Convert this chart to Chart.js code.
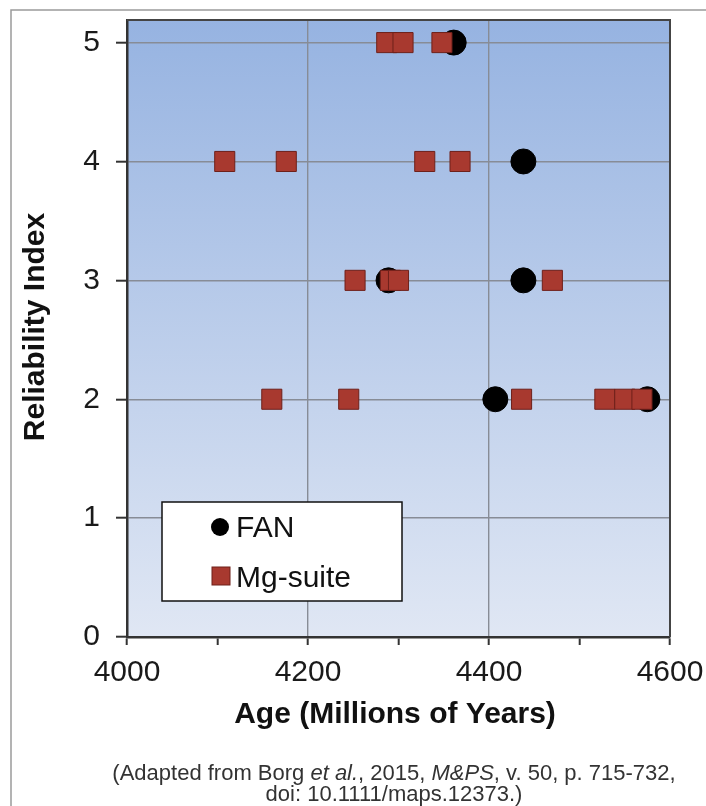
<!DOCTYPE html>
<html>
<head>
<meta charset="utf-8">
<script src="https://cdn.jsdelivr.net/npm/chart.js@4.4.1/dist/chart.umd.min.js"></script>
<style>
    html, body { margin: 0; padding: 0; background: #ffffff; }
    #ageChart { display: block; }
</style>
</head>
<body>
<canvas id="ageChart" width="706" height="806"></canvas>
<script>
// Data
const fanAges = [4361, 4438, 4289, 4438, 4407, 4575];
const fanIndex = [5, 4, 3, 3, 2, 2];
const mgAges = [4287, 4305, 4348, 4108, 4176, 4329, 4368, 4252, 4291, 4300, 4470, 4160, 4245, 4436, 4528, 4550, 4569];
const mgIndex = [5, 5, 5, 4, 4, 4, 4, 3, 3, 3, 3, 2, 2, 2, 2, 2, 2];
const xTickLabels = [4000, 4200, 4400, 4600];
const yTickLabels = [0, 1, 2, 3, 4, 5];
const seriesNames = ['FAN', 'Mg-suite'];

const FONT = '"Liberation Sans", Arial, sans-serif';
const gridColor = '#878c96';
const axisColor = '#333333';
const mgFill = '#a8392f';
const mgBorder = '#6e201a';

const toPoints = (xs, ys) => xs.map((x, i) => ({ x: x, y: ys[i] }));

// no automatic label overflow padding, the layout padding decides the plot box
const noPad = s => {
    s.paddingLeft = 0;
    s.paddingRight = 0;
    s.paddingTop = 0;
    s.paddingBottom = 0;
};

// Background gradient, plot frame, legend, axis titles and caption
const decorPlugin = {
    id: 'decor',
    beforeDraw(chart) {
        const { ctx, chartArea: a } = chart;
        ctx.save();
        // outer frame (top/left visible)
        ctx.strokeStyle = '#9a9a9a';
        ctx.lineWidth = 1.5;
        ctx.strokeRect(11, 10, 720, 820);
        const g = ctx.createLinearGradient(0, a.top, 0, a.bottom);
        g.addColorStop(0, '#96b3e1');
        g.addColorStop(1, '#e0e7f4');
        ctx.fillStyle = g;
        ctx.fillRect(a.left, a.top, a.right - a.left, a.bottom - a.top);
        ctx.restore();
    },
    beforeDatasetsDraw(chart) {
        const { ctx, chartArea: a } = chart;
        ctx.save();
        ctx.strokeStyle = '#444';
        ctx.lineWidth = 2;
        ctx.beginPath();
        ctx.moveTo(a.left, a.top);
        ctx.lineTo(a.right, a.top);
        ctx.lineTo(a.right, a.bottom);
        ctx.stroke();
        ctx.restore();
    },
    afterDraw(chart) {
        const { ctx, chartArea: a } = chart;
        ctx.save();

        // legend box
        ctx.fillStyle = '#ffffff';
        ctx.fillRect(162, 502, 240, 99);
        ctx.strokeStyle = '#111';
        ctx.lineWidth = 1.5;
        ctx.strokeRect(162, 502, 240, 99);
        ctx.fillStyle = '#000';
        ctx.beginPath();
        ctx.arc(220, 527, 9, 0, Math.PI * 2);
        ctx.fill();
        ctx.fillStyle = mgFill;
        ctx.strokeStyle = mgBorder;
        ctx.lineWidth = 1;
        ctx.fillRect(212, 567, 18, 18);
        ctx.strokeRect(212, 567, 18, 18);
        ctx.fillStyle = '#111';
        ctx.font = '30px ' + FONT;
        ctx.textAlign = 'left';
        ctx.textBaseline = 'alphabetic';
        ctx.fillText(seriesNames[0], 236, 537);
        ctx.fillText(seriesNames[1], 236, 587);

        // axis titles
        ctx.font = 'bold 30px ' + FONT;
        ctx.textAlign = 'center';
        ctx.fillText('Age (Millions of Years)', 395, 723);
        ctx.save();
        ctx.translate(44, 327);
        ctx.rotate(-Math.PI / 2);
        ctx.fillText('Reliability Index', 0, 0);
        ctx.restore();

        // caption with italic parts
        const drawLine = (parts, cx, y) => {
            let total = 0;
            parts.forEach(p => {
                ctx.font = (p.i ? 'italic ' : '') + '22px ' + FONT;
                total += ctx.measureText(p.t).width;
            });
            let x = cx - total / 2;
            ctx.textAlign = 'left';
            parts.forEach(p => {
                ctx.font = (p.i ? 'italic ' : '') + '22px ' + FONT;
                ctx.fillText(p.t, x, y);
                x += ctx.measureText(p.t).width;
            });
        };
        ctx.fillStyle = '#333';
        drawLine([
            { t: '(Adapted from Borg ' },
            { t: 'et al.', i: true },
            { t: ', 2015, ' },
            { t: 'M&PS', i: true },
            { t: ', v. 50, p. 715-732,' }
        ], 394, 780);
        drawLine([{ t: 'doi: 10.1111/maps.12373.)' }], 394, 801);
        ctx.restore();
    }
};

new Chart(document.getElementById('ageChart').getContext('2d'), {
    type: 'scatter',
    data: {
        datasets: [
            {
                label: seriesNames[1],
                data: toPoints(mgAges, mgIndex),
                pointStyle: 'rect',
                pointRadius: 14.2,
                backgroundColor: mgFill,
                borderColor: mgBorder,
                borderWidth: 1,
                order: 0
            },
            {
                label: seriesNames[0],
                data: toPoints(fanAges, fanIndex),
                pointStyle: 'circle',
                pointRadius: 12.5,
                backgroundColor: '#000000',
                borderColor: '#000000',
                borderWidth: 1,
                order: 1
            }
        ]
    },
    options: {
        responsive: false,
        animation: false,
        devicePixelRatio: 1,
        layout: { padding: { top: 20, right: 36, left: 0, bottom: 0 } },
        plugins: {
            legend: { display: false },
            tooltip: { enabled: false }
        },
        scales: {
            x: {
                type: 'linear',
                min: 4000,
                max: 4600,
                afterFit: s => { s.height = 169; noPad(s); },
                ticks: {
                    stepSize: 100,
                    padding: 10,
                    color: '#1a1a1a',
                    font: { size: 30, family: FONT },
                    maxRotation: 0,
                    autoSkip: false,
                    callback: v => xTickLabels.includes(v) ? String(v) : ''
                },
                grid: {
                    color: c => (c.tick && (c.tick.value === 4200 || c.tick.value === 4400)) ? gridColor : 'transparent',
                    lineWidth: 1.4,
                    tickLength: 8,
                    tickColor: axisColor,
                    tickWidth: 2
                },
                border: { display: true, color: axisColor, width: 2.5 }
            },
            y: {
                type: 'linear',
                min: 0,
                max: 5.19,
                afterFit: s => { s.width = 127; noPad(s); },
                afterBuildTicks: s => { s.ticks = yTickLabels.map(v => ({ value: v })); },
                ticks: {
                    stepSize: 1,
                    padding: 16,
                    color: '#1a1a1a',
                    font: { size: 30, family: FONT },
                    callback: v => String(v)
                },
                grid: {
                    color: c => (c.tick && c.tick.value > 0) ? gridColor : 'transparent',
                    lineWidth: 1.4,
                    tickLength: 11,
                    tickColor: axisColor,
                    tickWidth: 2
                },
                border: { display: true, color: axisColor, width: 2.5 }
            }
        }
    },
    plugins: [decorPlugin]
});
</script>
</body>
</html>
